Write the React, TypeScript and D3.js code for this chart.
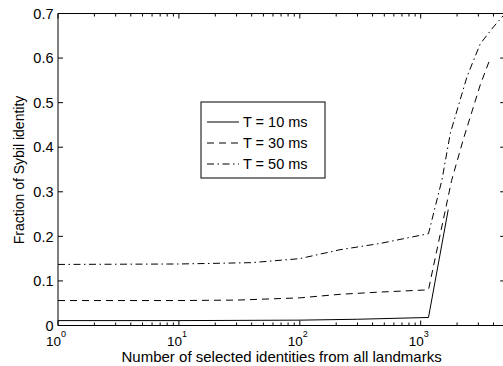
import React from "react";
import * as d3 from "d3";

const xT10 = [1, 10, 100, 300, 1160, 1690];
const yT10 = [0.011, 0.011, 0.012, 0.014, 0.018, 0.26];
const xT30 = [1, 10, 30, 100, 215, 460, 1160, 1800, 2265, 3110, 3770];
const yT30 = [0.056, 0.056, 0.057, 0.062, 0.07, 0.075, 0.08, 0.325, 0.42, 0.54, 0.6];
const xT50 = [1, 10, 40, 100, 215, 460, 1160, 1500, 1760, 2420, 3110, 4000, 5000];
const yT50 = [0.137, 0.138, 0.141, 0.15, 0.17, 0.184, 0.206, 0.327, 0.432, 0.559, 0.632, 0.67, 0.7];
const seriesLabels = ["T = 10 ms", "T = 30 ms", "T = 50 ms"];
const yTicks = [0, 0.1, 0.2, 0.3, 0.4, 0.5, 0.6, 0.7];
const yTickLabels = ["0", "0.1", "0.2", "0.3", "0.4", "0.5", "0.6", "0.7"];
const xMajor = [1, 10, 100, 1000];
const xExponents = ["0", "1", "2", "3"];
const xLabel = "Number of selected identities from all landmarks";
const yLabel = "Fraction of Sybil identity";

const FONT = "'Liberation Sans', Arial, Helvetica, sans-serif";

export default function App() {
  const left = 58, right = 505.2, top = 13.5, bottom = 325.5;
  const x = d3.scaleLog().domain([1, 5000]).range([left, right]);
  const y = d3.scaleLinear().domain([0, 0.7]).range([bottom, top]);
  const minor: number[] = [];
  for (const d of xMajor) for (let k = 2; k <= 9; k++) if (d * k <= 5000) minor.push(d * k);

  const line = d3.line<[number, number]>().x((p) => x(p[0])).y((p) => y(p[1]));
  const series = [
    { xs: xT10, ys: yT10, dash: undefined as string | undefined },
    { xs: xT30, ys: yT30, dash: "7,5" },
    { xs: xT50, ys: yT50, dash: "7,3.5,1.5,3.5" },
  ];

  const lg = { x: 201, y: 102, w: 124, h: 76 };
  const rowY = [122, 143, 164];

  return (
    <svg width={503} height={366} style={{ position: "absolute", left: 0, top: 0, background: "#fff" }} fontFamily={FONT}>
      <rect x={0} y={0} width={503} height={366} fill="#fff" />
      <defs>
        <clipPath id="plot">
          <rect x={left} y={top - 1} width={right - left} height={bottom - top + 2} />
        </clipPath>
      </defs>
      <g clipPath="url(#plot)">
        {series.map((s, i) => (
          <path
            key={i}
            d={line(s.xs.map((v, j) => [v, s.ys[j]] as [number, number])) || ""}
            fill="none"
            stroke="#000"
            strokeWidth={1}
            strokeDasharray={s.dash}
          />
        ))}
      </g>
      <line x1={left} x2={right} y1={top} y2={top} stroke="#000" strokeWidth={1} />
      <line x1={left} x2={right} y1={bottom} y2={bottom} stroke="#000" strokeWidth={1} />
      <line x1={left} x2={left} y1={top} y2={bottom} stroke="#000" strokeWidth={1} />
      <line x1={right} x2={right} y1={top} y2={bottom} stroke="#000" strokeWidth={1} />
      {yTicks.map((t, i) => (
        <g key={"y" + i}>
          <line x1={left} x2={left + 5} y1={y(t)} y2={y(t)} stroke="#000" />
          <line x1={right - 5} x2={right} y1={y(t)} y2={y(t)} stroke="#000" />
          <text x={left - 4.5} y={y(t)} dy="0.36em" textAnchor="end" fontSize={14.5}>
            {yTickLabels[i]}
          </text>
        </g>
      ))}
      {minor.map((t, i) => (
        <g key={"m" + i}>
          <line x1={x(t)} x2={x(t)} y1={bottom} y2={bottom - 3} stroke="#000" />
          <line x1={x(t)} x2={x(t)} y1={top} y2={top + 3} stroke="#000" />
        </g>
      ))}
      {xMajor.map((t, i) => (
        <g key={"M" + i}>
          <line x1={x(t)} x2={x(t)} y1={bottom} y2={bottom - 5} stroke="#000" />
          <line x1={x(t)} x2={x(t)} y1={top} y2={top + 5} stroke="#000" />
          <text x={x(t) - 2} y={345.5} textAnchor="middle" fontSize={13.5}>
            10
            <tspan fontSize={9} dy={-8.5}>{xExponents[i]}</tspan>
          </text>
        </g>
      ))}
      <text x={(left + right) / 2} y={362} textAnchor="middle" fontSize={15}>
        {xLabel}
      </text>
      <text transform={`translate(24,170) rotate(-90)`} textAnchor="middle" fontSize={14}>
        {yLabel}
      </text>
      <rect x={lg.x} y={lg.y} width={lg.w} height={lg.h} fill="#fff" stroke="#000" strokeWidth={1} />
      {series.map((s, i) => (
        <g key={"l" + i}>
          <line x1={207} x2={239} y1={rowY[i]} y2={rowY[i]} stroke="#000" strokeDasharray={s.dash} />
          <text x={243} y={rowY[i]} dy="0.36em" fontSize={14.5}>
            {seriesLabels[i]}
          </text>
        </g>
      ))}
    </svg>
  );
}
